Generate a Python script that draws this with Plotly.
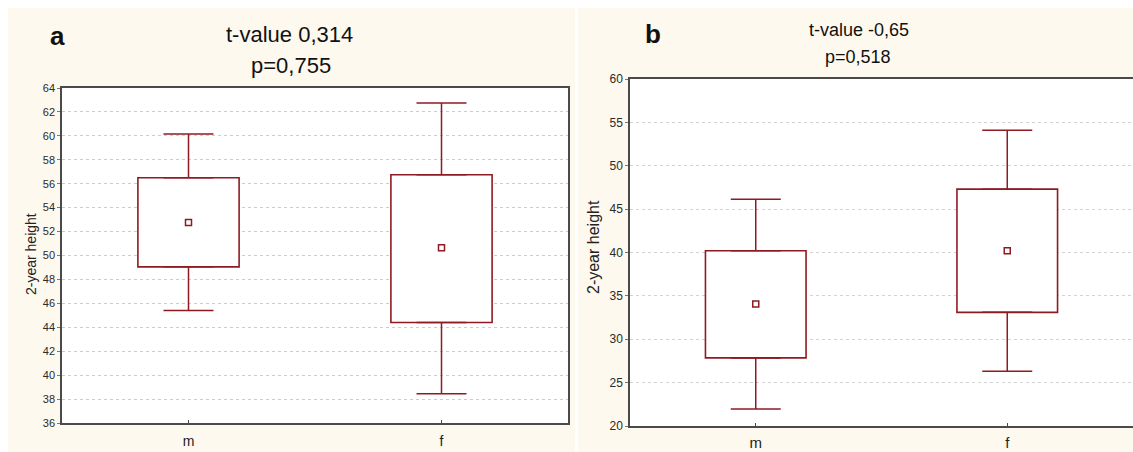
import plotly.graph_objects as go

# ---- data ----
categories = ["m", "f"]

# panel a
a_whisker_hi = [60.15, 62.75]
a_q3 = [56.5, 56.75]
a_mean = [52.75, 50.65]
a_q1 = [49.05, 44.4]
a_whisker_lo = [45.4, 38.45]
a_title = ["t-value 0,314", "p=0,755"]
a_yticks = list(range(36, 65, 2))

# panel b
b_whisker_hi = [46.15, 54.1]
b_q3 = [40.2, 47.3]
b_mean = [34.05, 40.2]
b_q1 = [27.85, 33.1]
b_whisker_lo = [21.95, 26.3]
b_title = ["t-value -0,65", "p=0,518"]
b_yticks = list(range(20, 61, 5))

y_label = "2-year height"

W, H = 1133, 452
RED = "#8E1B22"
CREAM = "#FEF9EE"
FONT = "Arial, Liberation Sans, sans-serif"


def px_x(p):
    return p / W


def px_y(p):
    return 1 - p / H


fig = go.Figure()


def add_panel(xa, ya, hi, q3, mean, q1, lo):
    n = len(categories)
    # whiskers (as error bars anchored at box edges)
    fig.add_trace(go.Scatter(
        x=categories + categories,
        y=q3 + q1,
        mode="markers",
        marker=dict(size=1, color="rgba(0,0,0,0)"),
        error_y=dict(
            type="data", symmetric=False,
            array=[hi[i] - q3[i] for i in range(n)] + [0] * n,
            arrayminus=[0] * n + [q1[i] - lo[i] for i in range(n)],
            color=RED, thickness=1.5, width=25,
        ),
        xaxis=xa, yaxis=ya, showlegend=False, hoverinfo="skip",
    ))
    # boxes
    fig.add_trace(go.Bar(
        x=categories,
        y=[q3[i] - q1[i] for i in range(n)],
        base=q1,
        width=0.4,
        marker=dict(color="white", line=dict(color=RED, width=1.6)),
        xaxis=xa, yaxis=ya, showlegend=False,
    ))
    # means
    fig.add_trace(go.Scatter(
        x=categories, y=mean, mode="markers",
        marker=dict(symbol="square-open", size=6, color=RED, line=dict(width=1.5, color=RED)),
        xaxis=xa, yaxis=ya, showlegend=False,
    ))


add_panel("x", "y", a_whisker_hi, a_q3, a_mean, a_q1, a_whisker_lo)
add_panel("x2", "y2", b_whisker_hi, b_q3, b_mean, b_q1, b_whisker_lo)

axis_common = dict(
    showline=True, linecolor="#4a4a4a", linewidth=1.5, mirror=True,
    zeroline=False, automargin=False,
)

fig.update_layout(
    width=W, height=H,
    margin=dict(l=0, r=0, t=0, b=0, pad=0),
    paper_bgcolor="white",
    plot_bgcolor="white",
    barmode="overlay",
    font=dict(family=FONT, color="#222"),
    xaxis=dict(
        domain=[px_x(62), px_x(568)], anchor="y",
        type="category", categoryorder="array", categoryarray=categories,
        range=[-0.5, 1.5], showgrid=False,
        ticks="inside", ticklen=3, tickcolor="#4a4a4a", tickwidth=1,
        ticklabelstandoff=4,
        tickfont=dict(size=14, color="#222"),
        **axis_common,
    ),
    yaxis=dict(
        domain=[px_y(423), px_y(88)], anchor="x",
        range=[36, 64], tickvals=a_yticks,
        showgrid=True, gridcolor="#CDCDCD", griddash="dot", gridwidth=1,
        ticks="outside", ticklen=3, tickcolor="#777",
        tickfont=dict(size=11, color="#2a2a2a"),
        **axis_common,
    ),
    xaxis2=dict(
        domain=[px_x(630), 1.0], anchor="y2",
        type="category", categoryorder="array", categoryarray=categories,
        range=[-0.5, 1.5], showgrid=False,
        ticks="inside", ticklen=3, tickcolor="#4a4a4a", tickwidth=1,
        ticklabelstandoff=2,
        tickfont=dict(size=15, color="#222"),
        **axis_common,
    ),
    yaxis2=dict(
        domain=[px_y(426), px_y(79)], anchor="x2",
        range=[20, 60], tickvals=b_yticks,
        showgrid=True, gridcolor="#D2D2D2", griddash="dot", gridwidth=1,
        ticks="outside", ticklen=3, tickcolor="#777",
        tickfont=dict(size=12, color="#2a2a2a"),
        **axis_common,
    ),
    shapes=[
        dict(type="rect", xref="paper", yref="paper", layer="below",
             x0=px_x(8), x1=px_x(575), y0=0, y1=px_y(8),
             fillcolor=CREAM, line=dict(width=0)),
        dict(type="rect", xref="paper", yref="paper", layer="below",
             x0=px_x(578), x1=1, y0=0, y1=px_y(8),
             fillcolor=CREAM, line=dict(width=0)),
        dict(type="rect", xref="x domain", yref="y domain", layer="below",
             x0=0, x1=1, y0=0, y1=1, fillcolor="white", line=dict(width=0)),
        dict(type="rect", xref="x2 domain", yref="y2 domain", layer="below",
             x0=0, x1=1, y0=0, y1=1, fillcolor="white", line=dict(width=0)),
    ],
    annotations=[
        dict(text="<b>a</b>", x=px_x(57), y=px_y(36), xref="paper", yref="paper",
             showarrow=False, font=dict(size=26, color="#111"), xanchor="center", yanchor="middle"),
        dict(text="<b>b</b>", x=px_x(653), y=px_y(34), xref="paper", yref="paper",
             showarrow=False, font=dict(size=26, color="#111"), xanchor="center", yanchor="middle"),
        dict(text=a_title[0], x=px_x(289), y=px_y(34), xref="paper", yref="paper",
             showarrow=False, font=dict(size=22, color="#111"), xanchor="center", yanchor="middle"),
        dict(text=a_title[1], x=px_x(291), y=px_y(65), xref="paper", yref="paper",
             showarrow=False, font=dict(size=22, color="#111"), xanchor="center", yanchor="middle"),
        dict(text=b_title[0], x=px_x(859), y=px_y(30), xref="paper", yref="paper",
             showarrow=False, font=dict(size=18, color="#111"), xanchor="center", yanchor="middle"),
        dict(text=b_title[1], x=px_x(858), y=px_y(57), xref="paper", yref="paper",
             showarrow=False, font=dict(size=18, color="#111"), xanchor="center", yanchor="middle"),
        dict(text=y_label, x=px_x(31), y=px_y(254), xref="paper", yref="paper", textangle=-90,
             showarrow=False, font=dict(size=14, color="#222"), xanchor="center", yanchor="middle"),
        dict(text=y_label, x=px_x(593), y=px_y(247), xref="paper", yref="paper", textangle=-90,
             showarrow=False, font=dict(size=16, color="#222"), xanchor="center", yanchor="middle"),
    ],
)

fig.write_html("out.html")
